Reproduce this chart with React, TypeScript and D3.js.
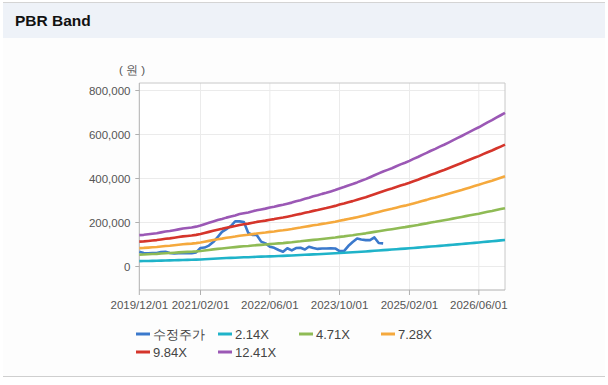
import React from "react";
import * as d3 from "d3";

// ---- data ----
const startDate = new Date(2019, 11, 1);
const endDate = new Date(2026, 11, 1);

// monthly BPS (원, thousands) starting 2019/12
const bpsK = [
  11.5, 11.6, 11.8, 12.0, 12.2, 12.5, 12.8, 13.0, 13.3, 13.6, 13.9, 14.1, 14.3, 14.6,
  15.0, 15.5, 16.0, 16.5, 17.0, 17.4, 17.9, 18.3, 18.7, 19.2, 19.5, 19.8, 20.2, 20.6,
  20.9, 21.2, 21.6, 21.9, 22.3, 22.6, 23.0, 23.4, 23.9, 24.3, 24.8, 25.2, 25.7, 26.1,
  26.6, 27.0, 27.5, 28.0, 28.6, 29.1, 29.7, 30.2, 30.8, 31.4, 32.0, 32.7, 33.4, 34.1,
  34.8, 35.4, 36.0, 36.7, 37.4, 38.0, 38.7, 39.4, 40.1, 40.9, 41.6, 42.4, 43.1, 43.9,
  44.6, 45.4, 46.2, 47.0, 47.8, 48.6, 49.4, 50.2, 51.0, 51.9, 52.8, 53.6, 54.5, 55.4, 56.3,
];

// monthly adjusted price (원, thousands) starting 2019/12
const priceK = [
  67, 61, 60, 61, 61, 66, 67, 61, 59, 60, 60, 60, 60, 64, 84, 86, 95, 111, 134, 157,
  170, 184, 205, 205, 202, 152, 143, 143, 113, 105, 90, 85, 75, 67, 83, 73, 84, 85,
  77, 90, 84, 80, 82, 82, 83, 82, 70, 70, 93, 111, 127, 123, 120, 120, 132, 107, 105,
];

const multiples = [2.14, 4.71, 7.28, 9.84, 12.41];
const bandNames = ["2.14X", "4.71X", "7.28X", "9.84X", "12.41X"];
const bandColors = ["#1fb3c9", "#8fbb55", "#f5a93d", "#d5352b", "#9b58b5"];
const priceName = "수정주가";
const priceColor = "#3b79cc";

const yTicks = [0, 200000, 400000, 600000, 800000];
const xTickLabels = ["2019/12/01", "2021/02/01", "2022/06/01", "2023/10/01", "2025/02/01", "2026/06/01"];

const parseDate = d3.timeParse("%Y/%m/%d");
const monthDate = (i: number) => new Date(2019, 11 + i, 1);

export default function App() {
  const W = 608, H = 385;
  const plot = { left: 139.3, right: 505, top: 83, bottom: 290 };
  const x = d3.scaleTime().domain([startDate, endDate]).range([plot.left, plot.right]);
  const y = d3.scaleLinear().domain([0, 800000]).range([266.5, 90.5]);

  const line = d3
    .line<[Date, number]>()
    .x((d) => x(d[0]))
    .y((d) => y(d[1]));

  const bands = multiples.map((m) => bpsK.map((b, i) => [monthDate(i), b * 1000 * m] as [Date, number]));
  const price = priceK.map((p, i) => [monthDate(i), p * 1000] as [Date, number]);

  const xTicks = xTickLabels.map((s) => ({ label: s, date: parseDate(s)! }));
  const fmt = d3.format(",");

  const legendItems = [
    { name: priceName, color: priceColor },
    ...bandNames.map((n, i) => ({ name: n, color: bandColors[i] })),
  ];
  const legendX = [136, 218, 299, 381];
  const legendY = [334, 352];

  const font = "'Liberation Sans', Arial, sans-serif";

  return (
    <div style={{ position: "fixed", left: 0, top: 0 }}>
      <svg width={W} height={H} style={{ display: "block", fontFamily: font }}>
        <rect x={0} y={0} width={W} height={H} fill="#ffffff" />
        <rect x={3} y={3} width={W - 6} height={373} fill="#fdfdfd" />
        <rect x={3} y={3} width={W - 6} height={35} fill="#eef2f8" />
        <line x1={3} x2={W - 3} y1={2.5} y2={2.5} stroke="#d4d4d4" />
        <line x1={3} x2={W - 3} y1={376.5} y2={376.5} stroke="#cfcfcf" />
        <text x={15} y={26} fontSize={15.5} fontWeight="bold" fill="#111">
          PBR Band
        </text>

        {/* plot background */}
        <rect x={plot.left} y={plot.top} width={plot.right - plot.left} height={plot.bottom - plot.top} fill="#ffffff" />

        {/* grid */}
        {yTicks.map((t) => (
          <line key={"gy" + t} x1={plot.left} x2={plot.right} y1={y(t)} y2={y(t)} stroke="#ebebeb" />
        ))}
        {xTicks.slice(1).map((t) => (
          <line key={"gx" + t.label} x1={x(t.date)} x2={x(t.date)} y1={plot.top} y2={plot.bottom} stroke="#ebebeb" />
        ))}

        {/* frame */}
        <line x1={plot.left} x2={plot.right} y1={plot.top} y2={plot.top} stroke="#c8c8c8" />
        <line x1={plot.right} x2={plot.right} y1={plot.top} y2={plot.bottom} stroke="#c8c8c8" />
        <line x1={plot.left} x2={plot.left} y1={plot.top} y2={plot.bottom} stroke="#b0b0b0" />
        <line x1={plot.left} x2={plot.right} y1={plot.bottom} y2={plot.bottom} stroke="#b0b0b0" />

        {/* y axis */}
        {yTicks.map((t) => (
          <g key={"yt" + t}>
            <line x1={plot.left - 4} x2={plot.left} y1={y(t)} y2={y(t)} stroke="#b0b0b0" />
            <text x={130.5} y={y(t)} dy="0.35em" textAnchor="end" fontSize={11.5} fill="#555">
              {fmt(t)}
            </text>
          </g>
        ))}
        <text x={132} y={70} dy="0.35em" textAnchor="middle" fontSize={11.5} fill="#555">
          ( 원 )
        </text>

        {/* x axis */}
        {xTicks.map((t) => (
          <g key={"xt" + t.label}>
            <line x1={x(t.date)} x2={x(t.date)} y1={plot.bottom} y2={plot.bottom + 5} stroke="#b0b0b0" />
            <text x={x(t.date)} y={305} dy="0.35em" textAnchor="middle" fontSize={11.5} fill="#555">
              {t.label}
            </text>
          </g>
        ))}

        {/* lines */}
        <g fill="none" strokeWidth={2.6} strokeLinejoin="round">
          <path d={line(price) || ""} stroke={priceColor} />
          {bands.map((b, i) => (
            <path key={"b" + i} d={line(b) || ""} stroke={bandColors[i]} />
          ))}
        </g>

        {/* legend */}
        {legendItems.map((it, i) => {
          const lx = legendX[i % 4];
          const ly = legendY[Math.floor(i / 4)];
          return (
            <g key={"lg" + i}>
              <line x1={lx} x2={lx + 14} y1={ly} y2={ly} stroke={it.color} strokeWidth={3} />
              <text x={lx + 17} y={ly} dy="0.35em" fontSize={13} fill="#444">
                {it.name}
              </text>
            </g>
          );
        })}
      </svg>
    </div>
  );
}
